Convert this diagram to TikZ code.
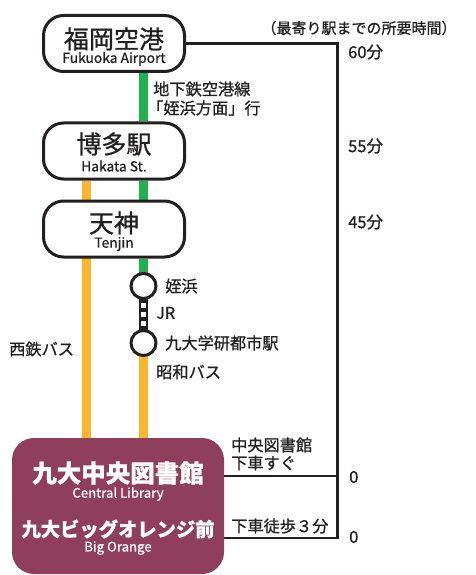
\documentclass[tikz,border=0pt]{standalone}
\usepackage{fontspec}
\setmainfont{Noto Sans CJK JP}[FakeBold=0.8]
\usetikzlibrary{backgrounds}
\definecolor{gline}{HTML}{22B04F}
\definecolor{oline}{HTML}{FBB630}
\definecolor{maroonbox}{HTML}{8F3E5B}
\definecolor{ink}{HTML}{231F20}
\begin{document}
\begin{tikzpicture}[x=1pt,y=-1pt,
 station/.style={draw=ink, line width=3pt, fill=white, rounded corners=20pt, minimum width=141pt, minimum height=56pt, inner sep=0pt},
 title/.style={font=\fontsize{25}{25}\selectfont, text=ink, inner sep=0pt},
 sub/.style={font=\fontsize{13.8}{14}\selectfont, text=ink, inner sep=0pt},
 lbl/.style={font=\fontsize{16.2}{17}\selectfont, text=ink, inner sep=0pt, anchor=west},
 timelbl/.style={font=\fontsize{16.5}{17}\selectfont, text=ink, inner sep=0pt, anchor=west},
 hdrlbl/.style={font=\fontsize{15}{15}\selectfont, text=ink, inner sep=0pt},
 stop/.style={circle, draw=ink, line width=3pt, fill=white, minimum size=25pt, inner sep=0pt},
 gseg/.style={gline, line width=9pt},
 oseg/.style={oline, line width=9pt},
 link/.style={ink, line width=2.6pt},
 whitetxt/.style={text=white, inner sep=0pt},
]
\useasboundingbox (0,0) rectangle (476,575);

% coordinates
\coordinate (gX) at (143.5,0);
\coordinate (oL) at (86.5,0);
\coordinate (rx) at (337.5,0);
\coordinate (p476) at (0,476);
\coordinate (p538) at (0,538);

% stations
\node[station] (airport) at (114,43.5) {};
\node[station] (hakata) at (114,151) {};
\node[station] (tenjin) at (114,229) {};
\node[fill=maroonbox, rounded corners=22pt, minimum width=212pt, minimum height=136pt, inner sep=0pt] (big) at (118,506) {};
\node[stop] (c1) at (143.5,286) {};
\node[stop] (c2) at (143.5,343) {};

\begin{pgfonlayer}{background}
 \draw[gseg] (airport.south -| gX) -- (hakata.north -| gX);
 \draw[gseg] (hakata.south -| gX) -- (tenjin.north -| gX);
 \draw[gseg] (tenjin.south -| gX) -- (c1.center);
 \draw[oseg] (hakata.south -| oL) -- (big.north -| oL);
 \draw[oseg] (c2.center) -- (big.north -| gX);
 \draw[ink, line width=9pt] (c1.center) -- (c2.center);
 \draw[white, line width=4.5pt, dash pattern=on 4.5pt off 4.5pt, dash phase=6pt] (c1.south) -- (c2.north);
 \draw[link] (airport.east) -- (airport.east -| rx) -- (p538 -| rx) -- (big.east |- p538);
 \draw[link] (big.east |- p476) -- (p476 -| rx);
\end{pgfonlayer}

% station texts
\node[title] (t1) at (114,39) {福岡空港};
\node[sub] (s1) at (114,59) {Fukuoka Airport};
\node[title] (t2) at (114,144) {博多駅};
\node[sub] (s2) at (114,166) {Hakata St.};
\node[title] (t3) at (114,223) {天神};
\node[sub] (s3) at (114,244) {Tenjin};

\node[whitetxt, font=\fontsize{24.5}{25}\selectfont\bfseries] (t4) at (118,473) {九大中央図書館};
\node[whitetxt, font=\fontsize{13.2}{14}\selectfont] (s4) at (118,494) {Central Library};
\node[whitetxt, font=\fontsize{19.3}{20}\selectfont\bfseries] (t5) at (118,529) {九大ビッグオレンジ前};
\node[whitetxt, font=\fontsize{13.2}{14}\selectfont] (s5) at (118,548) {Big Orange};

% labels
\node[hdrlbl] (hdr) at (359,28) {（最寄り駅までの所要時間）};
\node[timelbl] (m60) at (348,52) {60分};
\node[timelbl] (m55) at (348,146) {55分};
\node[timelbl] (m45) at (348,222) {45分};
\node[timelbl] (m0a) at (349,477) {0};
\node[timelbl] (m0b) at (349,537) {0};

\node[lbl] (l1) at (153,89) {地下鉄空港線};
\node[lbl] (l2) at (147,108) {「姪浜方面」行};
\node[lbl] (l3) at (165,286) {姪浜};
\node[lbl] (l4) at (156,313) {JR};
\node[lbl] (l5) at (165,343) {九大学研都市駅};
\node[lbl] (l6) at (156,372) {昭和バス};
\node[lbl] (l7) at (9,349) {西鉄バス};
\node[lbl] (l8) at (231,445) {中央図書館};
\node[lbl] (l9) at (231,463) {下車すぐ};
\node[lbl] (l10) at (231,526) {下車徒歩３分};
\end{tikzpicture}
\end{document}
